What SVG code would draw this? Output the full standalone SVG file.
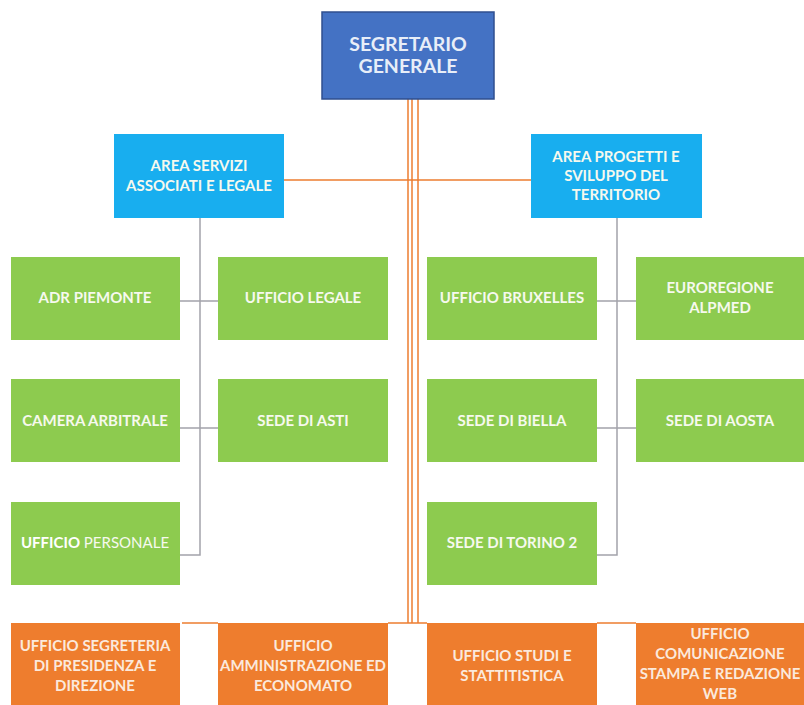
<svg xmlns="http://www.w3.org/2000/svg" width="804" height="705" viewBox="0 0 804 705">
<style>
text{font-family:Lato,"Open Sans","Liberation Sans",sans-serif;font-weight:700;text-anchor:middle;dominant-baseline:central;fill:#f6f9ee;font-size:15px}
.top{fill:#4472c4;stroke:#2f4f8f;stroke-width:1.5}
.area{fill:#18aeef}
.green{fill:#8dcb4f}
.orange{fill:#ee7d2e}
.t1{font-size:19.5px;fill:#e8eef8}
.ot{fill:#fbe9dc}
.gray{stroke:#a3a3ab;stroke-width:1.5;fill:none}
.org{stroke:#ed7d31;stroke-width:1.5;fill:none}
</style>
<rect width="804" height="705" fill="#ffffff"/>
<g id="connectors">
<path class="org" d="M408 99V623M412 99V623M418 99V623M284 180H531M388 623H427M182 623H218M597 623H636"/>
<path class="gray" d="M200 218V555H180M180 301H218M180 428H218M617 218V555H597M597 301H636M597 428H636"/>
</g>
<g id="segretario"><rect class="top" x="322" y="12" width="172" height="87"/><text class="t1" x="408" y="43">SEGRETARIO</text><text class="t1" x="408" y="65">GENERALE</text></g>
<g id="area-servizi"><rect class="area" x="114" y="134" width="170" height="84"/><text x="199" y="165">AREA SERVIZI</text><text x="199" y="185">ASSOCIATI E LEGALE</text></g>
<g id="area-progetti"><rect class="area" x="531" y="134" width="171" height="84"/><text x="616" y="156">AREA PROGETTI E</text><text x="616" y="175">SVILUPPO DEL</text><text x="616" y="194">TERRITORIO</text></g>
<g id="adr"><rect class="green" x="11" y="257" width="169" height="83"/><text x="95" y="297">ADR PIEMONTE</text></g>
<g id="legale"><rect class="green" x="218" y="257" width="170" height="83"/><text x="303" y="297">UFFICIO LEGALE</text></g>
<g id="bruxelles"><rect class="green" x="427" y="257" width="170" height="83"/><text x="512" y="297">UFFICIO BRUXELLES</text></g>
<g id="euroregione"><rect class="green" x="636" y="257" width="168" height="83"/><text x="720" y="287">EUROREGIONE</text><text x="720" y="307">ALPMED</text></g>
<g id="camera"><rect class="green" x="11" y="379" width="169" height="83"/><text x="95" y="420">CAMERA ARBITRALE</text></g>
<g id="asti"><rect class="green" x="218" y="379" width="170" height="83"/><text x="303" y="420">SEDE DI ASTI</text></g>
<g id="biella"><rect class="green" x="427" y="379" width="170" height="83"/><text x="512" y="420">SEDE DI BIELLA</text></g>
<g id="aosta"><rect class="green" x="636" y="379" width="168" height="83"/><text x="720" y="420">SEDE DI AOSTA</text></g>
<g id="personale"><rect class="green" x="11" y="502" width="169" height="83"/><text x="95" y="542"><tspan fill="#ffffff">UFFICIO</tspan><tspan font-weight="400"> PERSONALE</tspan></text></g>
<g id="torino"><rect class="green" x="427" y="502" width="170" height="83"/><text x="512" y="542">SEDE DI TORINO 2</text></g>
<g id="segreteria"><rect class="orange" x="11" y="623" width="169" height="82"/><text class="ot" x="95" y="645">UFFICIO SEGRETERIA</text><text class="ot" x="95" y="665">DI PRESIDENZA E</text><text class="ot" x="95" y="685">DIREZIONE</text></g>
<g id="amministrazione"><rect class="orange" x="218" y="623" width="170" height="82"/><text class="ot" x="303" y="645">UFFICIO</text><text class="ot" x="303" y="665">AMMINISTRAZIONE ED</text><text class="ot" x="303" y="685">ECONOMATO</text></g>
<g id="studi"><rect class="orange" x="427" y="623" width="170" height="82"/><text class="ot" x="512" y="655">UFFICIO STUDI E</text><text class="ot" x="512" y="675">STATTITISTICA</text></g>
<g id="comunicazione"><rect class="orange" x="636" y="623" width="168" height="82"/><text class="ot" x="720" y="633">UFFICIO</text><text class="ot" x="720" y="653">COMUNICAZIONE</text><text class="ot" x="720" y="673">STAMPA E REDAZIONE</text><text class="ot" x="720" y="693">WEB</text></g>
</svg>
